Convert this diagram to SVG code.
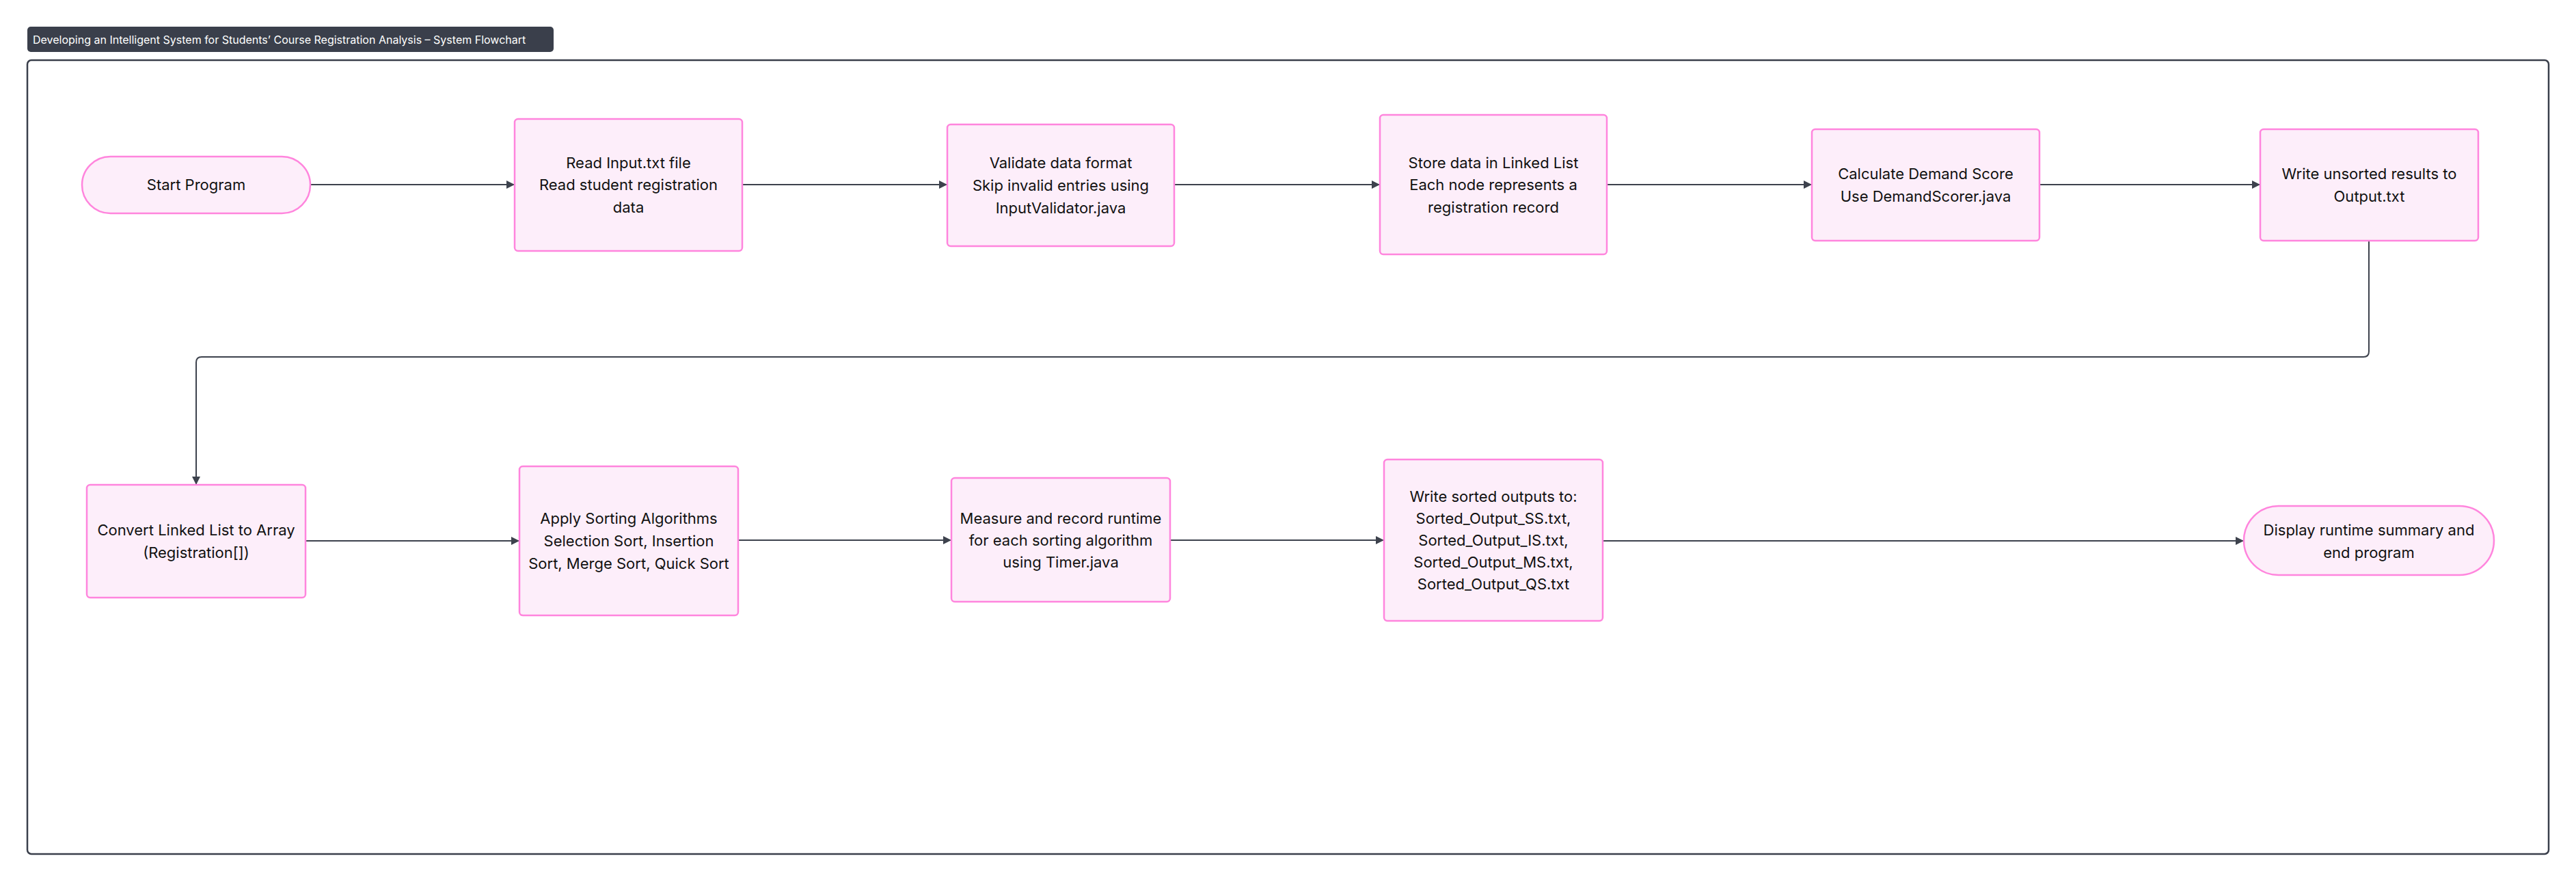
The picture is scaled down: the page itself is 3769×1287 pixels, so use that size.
<svg xmlns="http://www.w3.org/2000/svg" width="3769" height="1287" viewBox="0 0 3769 1287">
<style>
.n{fill:#fdeefa;stroke:#ff85dd;stroke-width:2.5}
.t{font-family:Inter,"Liberation Sans",sans-serif;font-size:22px;fill:#111;text-anchor:middle;dominant-baseline:central}
.e{fill:none;stroke:#3d424d;stroke-width:2}
</style>
<defs>
<marker id="a" viewBox="0 0 12 12" refX="12" refY="6" markerWidth="12" markerHeight="12" markerUnits="userSpaceOnUse" orient="auto"><path d="M0,0L12,6L0,12Z" fill="#3d424d"/></marker>
</defs>
<rect width="3769" height="1287" fill="#fff"/>
<g id="frame">
<rect x="40" y="88" width="3689" height="1161" rx="6" fill="none" stroke="#3a3f4b" stroke-width="2.5"/>
<rect x="40" y="39" width="770" height="37" rx="5" fill="#3a3f4b"/>
<text x="48" y="58" font-family="Inter,'Liberation Sans',sans-serif" font-size="16" fill="#fff" dominant-baseline="central">Developing an Intelligent System for Students’ Course Registration Analysis – System Flowchart</text>
</g>
<g id="edges">
<path class="e" d="M454,270H753" marker-end="url(#a)"/>
<path class="e" d="M1086,270H1386" marker-end="url(#a)"/>
<path class="e" d="M1718,270H2019" marker-end="url(#a)"/>
<path class="e" d="M2351,270H2651" marker-end="url(#a)"/>
<path class="e" d="M2984,270H3307" marker-end="url(#a)"/>
<path class="e" d="M3466,352V514Q3466,522 3458,522H295Q287,522 287,530V709" stroke="#6b6f78" stroke-width="1.6" marker-end="url(#a)"/>
<path class="e" d="M447,791H760" marker-end="url(#a)"/>
<path class="e" d="M1080,790H1392" marker-end="url(#a)"/>
<path class="e" d="M1712,790H2025" marker-end="url(#a)"/>
<path class="e" d="M2345,791H3283" marker-end="url(#a)"/>
</g>
<g id="start"><rect class="n" x="120" y="229" width="334" height="83" rx="41.5"/><text class="t" x="287" y="270">Start Program</text></g>
<g id="read"><rect class="n" x="753" y="174" width="333" height="193" rx="5"/><text class="t" x="919.5" y="238">Read Input.txt file</text><text class="t" x="919.5" y="270">Read student registration</text><text class="t" x="919.5" y="303">data</text></g>
<g id="validate"><rect class="n" x="1386" y="182" width="332" height="178" rx="5"/><text class="t" x="1552" y="238">Validate data format</text><text class="t" x="1552" y="271">Skip invalid entries using</text><text class="t" x="1552" y="304">InputValidator.java</text></g>
<g id="store"><rect class="n" x="2019" y="168" width="332" height="204" rx="5"/><text class="t" x="2185" y="238">Store data in Linked List</text><text class="t" x="2185" y="270">Each node represents a</text><text class="t" x="2185" y="303">registration record</text></g>
<g id="demand"><rect class="n" x="2651" y="189" width="333" height="163" rx="5"/><text class="t" x="2817.5" y="254">Calculate Demand Score</text><text class="t" x="2817.5" y="287">Use DemandScorer.java</text></g>
<g id="unsorted"><rect class="n" x="3307" y="189" width="319" height="163" rx="5"/><text class="t" x="3466.5" y="254">Write unsorted results to</text><text class="t" x="3466.5" y="287">Output.txt</text></g>
<g id="convert"><rect class="n" x="127" y="709" width="320" height="165" rx="5"/><text class="t" x="287" y="775">Convert Linked List to Array</text><text class="t" x="287" y="808">(Registration[])</text></g>
<g id="sorting"><rect class="n" x="760" y="682" width="320" height="218" rx="5"/><text class="t" x="920" y="758">Apply Sorting Algorithms</text><text class="t" x="920" y="791">Selection Sort, Insertion</text><text class="t" x="920" y="824">Sort, Merge Sort, Quick Sort</text></g>
<g id="measure"><rect class="n" x="1392" y="699" width="320" height="181" rx="5"/><text class="t" x="1552" y="758">Measure and record runtime</text><text class="t" x="1552" y="790">for each sorting algorithm</text><text class="t" x="1552" y="822">using Timer.java</text></g>
<g id="sorted"><rect class="n" x="2025" y="672" width="320" height="236" rx="5"/><text class="t" x="2185" y="726">Write sorted outputs to:</text><text class="t" x="2185" y="758">Sorted_Output_SS.txt,</text><text class="t" x="2185" y="790">Sorted_Output_IS.txt,</text><text class="t" x="2185" y="822">Sorted_Output_MS.txt,</text><text class="t" x="2185" y="854">Sorted_Output_QS.txt</text></g>
<g id="end"><rect class="n" x="3283" y="740" width="366" height="101" rx="50.5"/><text class="t" x="3466" y="775">Display runtime summary and</text><text class="t" x="3466" y="808">end program</text></g>
</svg>
